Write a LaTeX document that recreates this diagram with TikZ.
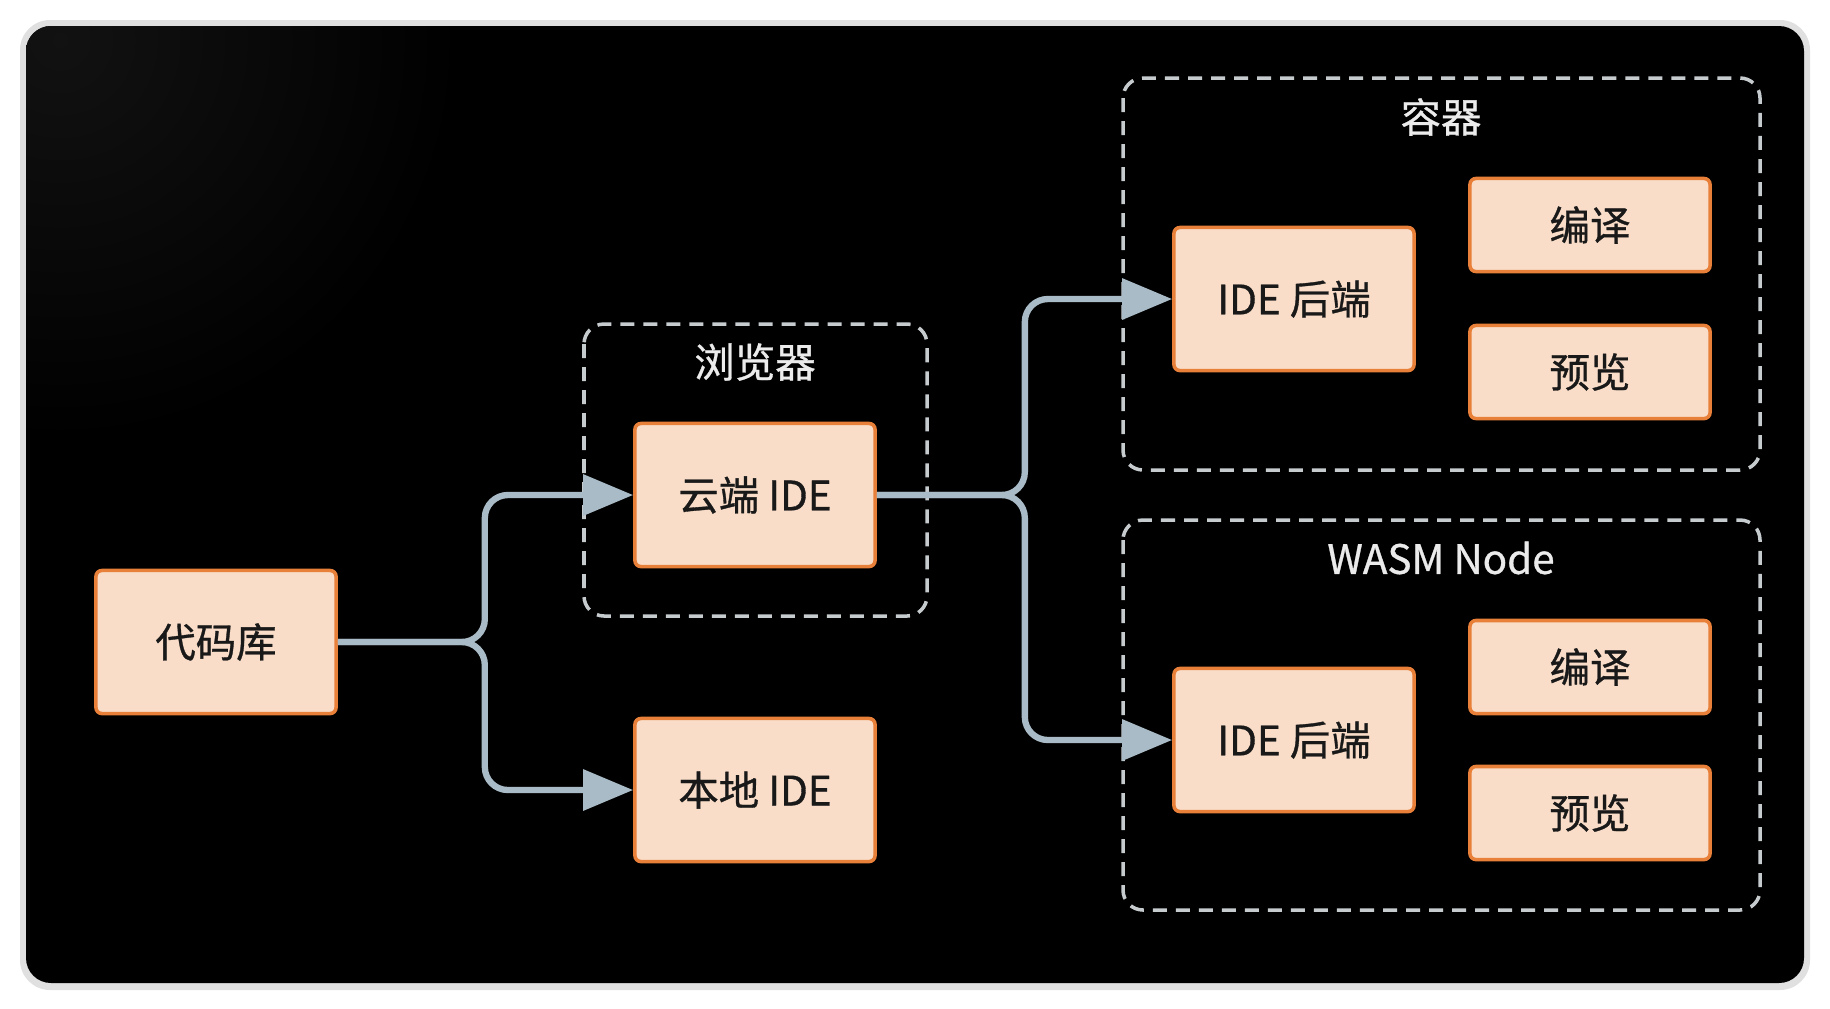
\documentclass[tikz,border=0pt]{standalone}
\usepackage{fontspec}
\usepackage{tikz}
\usetikzlibrary{arrows.meta}
\newfontfamily\cjk[FakeBold=0.8]{Noto Sans CJK SC}
\definecolor{peach}{HTML}{F9DDC8}
\definecolor{boxedge}{HTML}{E8803A}
\definecolor{wirecol}{HTML}{A9BBC6}
\definecolor{dashgray}{HTML}{C6CBCE}

\begin{document}
\begin{tikzpicture}[x=0.01cm, y=-0.01cm,
    block/.style={draw=boxedge, fill=peach, line width=1pt, rounded corners=0.06cm,
        minimum width=2.4cm, minimum height=1.43cm, inner sep=0pt,
        font=\cjk\fontsize{11.5}{13}\selectfont, text=black!90},
    smallblock/.style={block, minimum height=0.93cm},
    group/.style={draw=dashgray, line width=1pt, dash pattern=on 0.14cm off 0.09cm,
        rounded corners=0.2cm},
    grouplabel/.style={font=\cjk\fontsize{11.5}{13}\selectfont, text=white!92!black},
    wire/.style={draw=wirecol, line width=1.8pt, rounded corners=0.23cm,
        -{Triangle[length=0.5cm, width=0.4cm]}}]
    \useasboundingbox (0,0) rectangle (1830,1008);
    % frame
    \fill[white] (0,0) rectangle (1830,1008);
    \fill[black!12, rounded corners=0.3cm] (20,20) rectangle (1810,990);
    \fill[black, rounded corners=0.25cm] (26,26) rectangle (1804,983);
    \begin{scope}
        \clip[rounded corners=0.25cm] (26,26) rectangle (1804,983);
        \shade[inner color=black!93, outer color=black] (60,40) circle[radius=4cm];
    \end{scope}
    % dashed groups
    \draw[group] (584,324) rectangle (927,616);
    \draw[group] (1123,78) rectangle (1760,470);
    \draw[group] (1123,520) rectangle (1760,910);
    \node[grouplabel] (browserlbl) at (755,362) {浏览器};
    \node[grouplabel] (containerlbl) at (1441,117) {容器};
    \node[grouplabel] (wasmlbl) at (1441,558) {WASM Node};
    % boxes
    \node[block] (repo) at (216,642) {代码库};
    \node[block] (cloud) at (755,495) {云端 IDE};
    \node[block] (local) at (755,790) {本地 IDE};
    \node[block] (back1) at (1294,299) {IDE 后端};
    \node[smallblock] (build1) at (1590,225) {编译};
    \node[smallblock] (view1) at (1590,372) {预览};
    \node[block] (back2) at (1294,740) {IDE 后端};
    \node[smallblock] (build2) at (1590,667) {编译};
    \node[smallblock] (view2) at (1590,813) {预览};
    % now the wires
    \draw[wire] (repo.east) -- ++(147,0) |- (cloud.west);
    \draw[wire] (repo.east) -- ++(147,0) |- (local.west);
    \draw[wire] (cloud.east) -- ++(148,0) |- (back1.west);
    \draw[wire] (cloud.east) -- ++(148,0) |- (back2.west);
\end{tikzpicture}
\end{document}
